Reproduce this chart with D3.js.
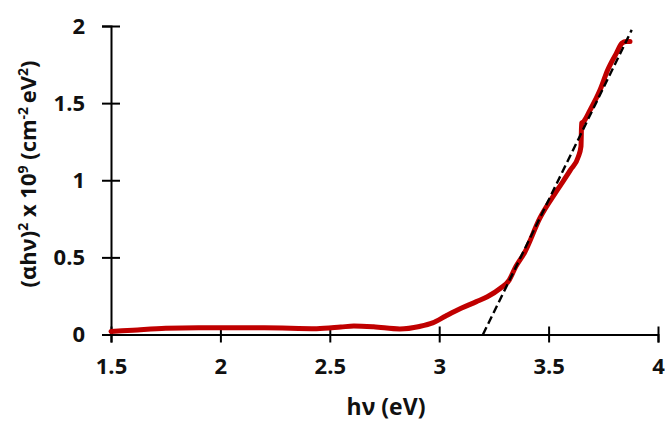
<!DOCTYPE html>
<html>
<head>
<meta charset="utf-8">
<script src="https://cdn.jsdelivr.net/npm/d3@7"></script>
<style>
  body { margin: 0; background: #fff; }
  svg text { font-family: "Open Sans", Lato, sans-serif; font-weight: bold; fill: #111; }
</style>
</head>
<body>
<svg id="chart" width="665" height="421"></svg>
<script>
const energy = [1.50, 1.60, 1.75, 1.90, 2.00, 2.20, 2.44, 2.55, 2.61, 2.70, 2.82, 2.91, 2.97, 3.03, 3.10, 3.17, 3.22, 3.28, 3.32, 3.35, 3.39, 3.46, 3.54, 3.60, 3.636, 3.648, 3.651, 3.66, 3.69, 3.735, 3.77, 3.81, 3.835, 3.855, 3.872];
const tauc   = [0.02, 0.028, 0.04, 0.044, 0.044, 0.044, 0.038, 0.048, 0.055, 0.05, 0.036, 0.052, 0.075, 0.12, 0.17, 0.213, 0.245, 0.30, 0.353, 0.44, 0.53, 0.754, 0.937, 1.067, 1.153, 1.22, 1.37, 1.38, 1.456, 1.585, 1.715, 1.824, 1.888, 1.90, 1.90];

// linear fit (extrapolated band gap)
const fitX = [3.20, 3.88];
const fitY = [0, 1.975];

const xTicks = [1.5, 2, 2.5, 3, 3.5, 4];
const yTicks = [0, 0.5, 1, 1.5, 2];

const svg = d3.select('#chart');
const x = d3.scaleLinear().domain([1.5, 4]).range([111, 658]);
const y = d3.scaleLinear().domain([0, 2]).range([334.5, 26]);

// axes
const xAxis = svg.append('g').attr('transform', `translate(0,${y(0)})`)
    .call(d3.axisBottom(x).tickValues(xTicks).tickSize(8).tickFormat(d3.format('')));
const yAxis = svg.append('g').attr('transform', `translate(${x(1.5)},0)`)
    .call(d3.axisLeft(y).tickValues(yTicks).tickSize(9).tickFormat(d3.format('')));

[xAxis, yAxis].forEach(a => {
    a.select('.domain').attr('stroke', '#000').attr('stroke-width', 2);
    a.selectAll('.tick line').attr('stroke', '#000').attr('stroke-width', 2);
    a.selectAll('.tick text').attr('font-size', 22).attr('fill', '#111');
});
// ticks cross the axis (Excel "cross" style)
xAxis.selectAll('.tick line').attr('y1', -8);
yAxis.selectAll('.tick line').attr('x1', 9);
xAxis.selectAll('.tick text').attr('y', 24);
yAxis.selectAll('.tick text').attr('x', -26);

// data line
const line = d3.line().x((d, i) => x(energy[i])).y(d => y(d)).curve(d3.curveMonotoneX);
svg.append('path')
    .datum(tauc)
    .attr('d', line)
    .attr('fill', 'none')
    .attr('stroke', '#c00000')
    .attr('stroke-width', 5)
    .attr('stroke-linejoin', 'round')
    .attr('stroke-linecap', 'round');

// fitted line
svg.append('line')
    .attr('x1', x(fitX[0])).attr('y1', y(fitY[0]))
    .attr('x2', x(fitX[1])).attr('y2', y(fitY[1]))
    .attr('stroke', '#000')
    .attr('stroke-width', 2.4)
    .attr('stroke-dasharray', '8,4');

// axis titles
svg.append('text')
    .attr('x', 386).attr('y', 415)
    .attr('text-anchor', 'middle')
    .attr('font-size', 23)
    .text('hν (eV)');

const yt = svg.append('text')
    .attr('transform', 'translate(36,174) rotate(-90)')
    .attr('text-anchor', 'middle')
    .attr('font-size', 22);
yt.append('tspan').text('(αhν)');
yt.append('tspan').attr('font-size', 14).attr('dy', -8).text('2');
yt.append('tspan').attr('dy', 8).text(' x 10');
yt.append('tspan').attr('font-size', 14).attr('dy', -8).text('9');
yt.append('tspan').attr('dy', 8).text(' (cm');
yt.append('tspan').attr('font-size', 14).attr('dy', -8).text('-2 ');
yt.append('tspan').attr('dy', 8).text('eV');
yt.append('tspan').attr('font-size', 14).attr('dy', -8).text('2');
yt.append('tspan').attr('dy', 8).text(')');
</script>
</body>
</html>
